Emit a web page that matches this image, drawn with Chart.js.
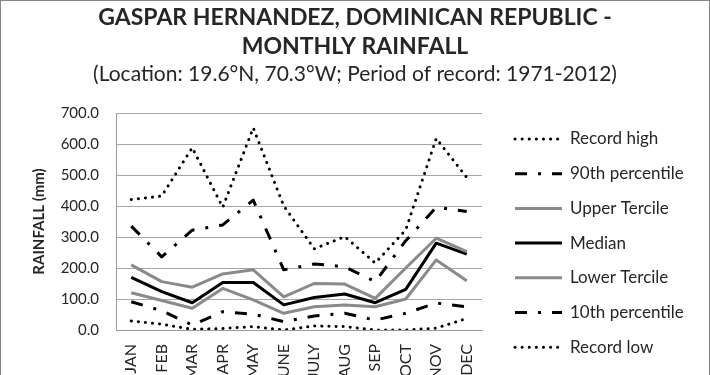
<!DOCTYPE html>
<html>
<head>
<meta charset="utf-8">
<script src="https://cdn.jsdelivr.net/npm/chart.js@4"></script>
<style>
  html, body { margin: 0; padding: 0; background: #fff; overflow: hidden; }
  #wrap { position: relative; width: 710px; height: 375px; overflow: hidden; }
  #frame { position: absolute; left: 0; top: 0; width: 708px; height: 400px; border: 1px solid #868686; pointer-events: none; }
</style>
</head>
<body>
<div id="wrap">
  <canvas id="rain" width="710" height="400"></canvas>
  <div id="frame"></div>
</div>
<script>
const months = ["JAN", "FEB", "MAR", "APR", "MAY", "JUNE", "JULY", "AUG", "SEP", "OCT", "NOV", "DEC"];
const recordHigh = [421, 432, 588, 396, 652, 400, 262, 301, 216, 323, 618, 492];
const pct90 = [335, 236, 322, 339, 419, 194, 213, 204, 156, 288, 396, 382];
const upperTercile = [210, 156, 138, 181, 194, 107, 150, 148, 102, 200, 296, 253];
const median = [170, 124, 88, 153, 153, 81, 105, 116, 88, 131, 280, 245];
const lowerTercile = [120, 95, 70, 134, 97, 54, 75, 81, 75, 100, 226, 159];
const pct10 = [91, 62, 16, 59, 51, 27, 45, 54, 32, 54, 87, 75];
const recordLow = [29, 19, 2, 5, 11, 0, 13, 11, 0, 0, 6, 37];
const yTicks = [0, 100, 200, 300, 400, 500, 600, 700];

const font = "Lato";
const textColor = "#262626";
const dotted = [0.1, 7];
const dashDot = [12, 11, 3, 11];

function series(label, data, color, dash, cap) {
    return {
        label: label,
        data: data,
        borderColor: color,
        backgroundColor: color,
        borderWidth: 3,
        borderDash: dash,
        borderCapStyle: cap,
        borderJoinStyle: "round",
        pointRadius: 0,
        fill: false,
        tension: 0,
        yAxisID: "y"
    };
}

// legend drawn by hand so it sits where Excel put it
const sideLegend = {
    id: "sideLegend",
    afterDraw(chart) {
        const c = chart.ctx;
        const area = chart.chartArea;
        const x0 = area.right + 33;
        const y0 = area.top + 26;
        const step = 34.7;
        chart.data.datasets.forEach((ds, i) => {
            const y = y0 + i * step;
            c.save();
            c.strokeStyle = ds.borderColor;
            c.lineWidth = ds.borderWidth;
            c.lineCap = ds.borderCapStyle;
            c.setLineDash(ds.borderDash);
            c.beginPath();
            c.moveTo(x0, y);
            c.lineTo(x0 + 47, y);
            c.stroke();
            c.setLineDash([]);
            c.fillStyle = textColor;
            c.font = "17px " + font;
            c.textAlign = "left";
            c.textBaseline = "middle";
            c.fillText(ds.label, x0 + 55, y);
            c.restore();
        });
    }
};

const chart = new Chart(document.getElementById("rain"), {
    type: "line",
    data: {
        labels: months,
        datasets: [
            series("Record high", recordHigh, "#000", dotted, "round"),
            series("90th percentile", pct90, "#000", dashDot, "butt"),
            series("Upper Tercile", upperTercile, "#8a8a8a", [], "butt"),
            series("Median", median, "#000", [], "butt"),
            series("Lower Tercile", lowerTercile, "#8a8a8a", [], "butt"),
            series("10th percentile", pct10, "#000", dashDot, "butt"),
            series("Record low", recordLow, "#000", dotted, "round")
        ]
    },
    options: {
        responsive: false,
        animation: false,
        layout: { padding: 0 },
        scales: {
            x: {
                offset: true,
                grid: { display: false },
                border: { display: true, color: "#9a9a9a", width: 1 },
                ticks: {
                    color: textColor,
                    font: { family: font, size: 16 },
                    minRotation: 90,
                    maxRotation: 90,
                    autoSkip: false,
                    padding: 6
                },
                afterFit(scale) { scale.height = 70; }
            },
            y: {
                min: 0,
                max: 700,
                afterBuildTicks(scale) { scale.ticks = yTicks.map(v => ({ value: v })); },
                grid: { color: "#a6a6a6", drawTicks: false },
                border: { display: true, color: "#9a9a9a", width: 1 },
                ticks: {
                    color: textColor,
                    font: { family: font, size: 15 },
                    padding: 17,
                    callback: v => v.toFixed(1)
                },
                title: {
                    display: true,
                    text: "RAINFALL (mm)",
                    color: textColor,
                    font: { family: font, size: 15, weight: "bold" },
                    padding: { top: 30, bottom: 0 }
                },
                afterFit(scale) { scale.width = 116; }
            },
            // empty right-hand box that keeps room for the legend
            side: {
                position: "right",
                min: 0,
                max: 700,
                grid: { display: false },
                border: { display: false },
                ticks: { display: false },
                afterFit(scale) { scale.width = 228; }
            }
        },
        plugins: {
            legend: { display: false },
            tooltip: { enabled: false },
            title: {
                display: true,
                text: ["GASPAR HERNANDEZ, DOMINICAN REPUBLIC -", "MONTHLY RAINFALL"],
                color: textColor,
                font: { family: font, size: 23, weight: "bold", lineHeight: 1.26 },
                padding: { top: 3.5, bottom: 0 }
            },
            subtitle: {
                display: true,
                text: "(Location: 19.6°N, 70.3°W; Period of record: 1971-2012)",
                color: textColor,
                font: { family: font, size: 21, lineHeight: 1.24 },
                padding: { top: 0, bottom: 25.5 }
            }
        }
    },
    plugins: [sideLegend]
});
</script>
</body>
</html>
